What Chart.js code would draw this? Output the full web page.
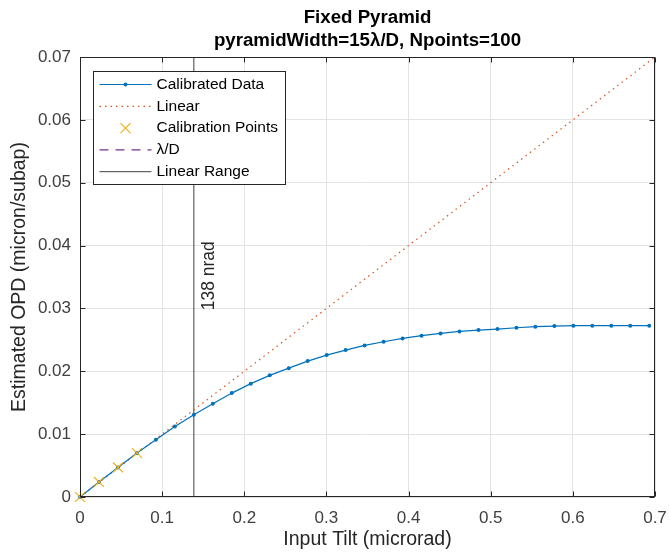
<!DOCTYPE html>
<html>
<head>
<meta charset="utf-8">
<script src="https://cdn.jsdelivr.net/npm/chart.js@4.4.1/dist/chart.umd.min.js"></script>
<style>
  body { margin: 0; background: #fff; }
</style>
</head>
<body>
<canvas id="chart" width="669" height="555"></canvas>
<script>
// values
const tiltX = [0, 0.0231, 0.0462, 0.0693, 0.0924, 0.1155, 0.1386, 0.1617, 0.1848, 0.2079,
  0.231, 0.2541, 0.2772, 0.3003, 0.3234, 0.3465, 0.3696, 0.3927, 0.4158, 0.4389,
  0.462, 0.4851, 0.5082, 0.5313, 0.5544, 0.5775, 0.6006, 0.6237, 0.6468, 0.6699, 0.693];
const opdY = [0, 0.0024, 0.0047, 0.0070, 0.0091, 0.0112, 0.0131, 0.01485, 0.01653, 0.01803,
  0.01935, 0.0205, 0.02162, 0.02258, 0.02337, 0.02412, 0.0247, 0.02523, 0.02566, 0.02603,
  0.02634, 0.02655, 0.02671, 0.02693, 0.02709, 0.02719, 0.02725, 0.02725, 0.02725, 0.02725, 0.02725];
const calibX = [0, 0.0231, 0.0462, 0.0693];
const calibY = [0, 0.0024, 0.0047, 0.0070];
const linearX = [0, 0.7];
const linearY = [0, 0.07];
const lambdaX = [];
const lambdaY = [];
const rangeX = [0.1386, 0.1386];
const rangeY = [0, 0.07];
const xTicks = [0, 0.1, 0.2, 0.3, 0.4, 0.5, 0.6, 0.7];
const yTicks = [0, 0.01, 0.02, 0.03, 0.04, 0.05, 0.06, 0.07];
const titleLines = ["Fixed Pyramid", "pyramidWidth=15\u03BB/D, Npoints=100"];
const rangeLabel = "138 nrad";

const FONT = "'Liberation Sans', Arial, Helvetica, sans-serif";
const AX = "#262626";

const zip = (xs, ys) => xs.map((x, i) => ({ x: x, y: ys[i] }));

// box, inward ticks, title, text label and the boxed legend (drawn like matlab does)
const matlabFrame = {
  id: "matlabFrame",
  afterDraw(chart) {
    const { ctx, chartArea: a, scales } = chart;
    const xs = scales.x, ys = scales.y;
    const L = Math.round(a.left) + 0.5, R = Math.round(a.right) - 0.5;
    const T = Math.round(a.top) + 0.5, B = Math.round(a.bottom) - 0.5;
    ctx.save();
    ctx.strokeStyle = AX;
    ctx.lineWidth = 1;
    ctx.setLineDash([]);
    ctx.strokeRect(L, T, R - L, B - T);

    const tl = 5;
    ctx.beginPath();
    xTicks.forEach(v => {
      const px = Math.round(xs.getPixelForValue(v)) + 0.5;
      ctx.moveTo(px, B); ctx.lineTo(px, B - tl);
      ctx.moveTo(px, T); ctx.lineTo(px, T + tl);
    });
    yTicks.forEach(v => {
      const py = Math.round(ys.getPixelForValue(v)) + 0.5;
      ctx.moveTo(L, py); ctx.lineTo(L + tl, py);
      ctx.moveTo(R, py); ctx.lineTo(R - tl, py);
    });
    ctx.stroke();

    // vertical text next to the linear range line
    ctx.save();
    ctx.translate(xs.getPixelForValue(rangeX[0]) + 15, ys.getPixelForValue(0.0352));
    ctx.rotate(-Math.PI / 2);
    ctx.fillStyle = AX;
    ctx.font = "17.5px " + FONT;
    ctx.textAlign = "center";
    ctx.textBaseline = "middle";
    ctx.fillText(rangeLabel, 0, 0);
    ctx.restore();

    // title centred over the axes
    ctx.fillStyle = "#000";
    ctx.font = "bold 18.7px " + FONT;
    ctx.textAlign = "center";
    ctx.textBaseline = "alphabetic";
    const cx = (a.left + a.right) / 2;
    ctx.fillText(titleLines[0], cx, 23);
    ctx.fillText(titleLines[1], cx, 46);

    // legend
    const lx = Math.round(a.left) + 13.5, ly = Math.round(a.top) + 14.5;
    const w = 192, h = 113;
    ctx.fillStyle = "#fff";
    ctx.fillRect(lx, ly, w, h);
    ctx.strokeStyle = AX;
    ctx.strokeRect(lx, ly, w, h);
    chart.data.datasets.forEach((ds, i) => {
      const cy = ly + 13 + i * 21.8;
      const x0 = lx + 6, x1 = lx + 58;
      if (ds.showLine) {
        ctx.save();
        ctx.strokeStyle = ds.borderColor;
        ctx.lineWidth = ds.borderWidth;
        ctx.setLineDash(ds.borderDash || []);
        ctx.beginPath();
        ctx.moveTo(x0, cy); ctx.lineTo(x1, cy);
        ctx.stroke();
        ctx.restore();
      }
      if (ds.pointRadius > 0) {
        ctx.save();
        ctx.fillStyle = ds.pointBackgroundColor;
        ctx.strokeStyle = ds.pointBorderColor;
        ctx.lineWidth = ds.pointBorderWidth;
        Chart.helpers.drawPoint(ctx, {
          pointStyle: ds.pointStyle, radius: ds.pointRadius,
          borderWidth: ds.pointBorderWidth, rotation: 0
        }, (x0 + x1) / 2, cy);
        ctx.restore();
      }
      ctx.fillStyle = "#000";
      ctx.font = "15.5px " + FONT;
      ctx.textAlign = "left";
      ctx.textBaseline = "middle";
      ctx.fillText(ds.label, lx + 63, cy);
    });
    ctx.restore();
  }
};

const ctx = document.getElementById("chart").getContext("2d");
new Chart(ctx, {
  type: "scatter",
  data: {
    datasets: [
      {
        label: "Calibrated Data",
        data: zip(tiltX, opdY),
        showLine: true,
        borderColor: "#0072BD",
        borderWidth: 1.2,
        pointStyle: "circle",
        pointRadius: 2,
        pointBorderWidth: 0,
        pointBackgroundColor: "#0072BD",
        pointBorderColor: "#0072BD",
        clip: false,
        order: 2
      },
      {
        label: "Linear",
        data: zip(linearX, linearY),
        showLine: true,
        borderColor: "#D95319",
        borderWidth: 1.2,
        borderDash: [1.5, 4],
        pointRadius: 0,
        order: 3
      },
      {
        label: "Calibration Points",
        data: zip(calibX, calibY),
        showLine: false,
        pointStyle: "crossRot",
        pointRadius: 7,
        pointBorderWidth: 1.2,
        pointBackgroundColor: "#EDB120",
        pointBorderColor: "#EDB120",
        clip: false,
        order: 1
      },
      {
        label: "\u03BB/D",
        data: zip(lambdaX, lambdaY),
        showLine: true,
        borderColor: "#7E2F8E",
        borderWidth: 1.2,
        borderDash: [9, 7],
        pointRadius: 0,
        order: 4
      },
      {
        label: "Linear Range",
        data: zip(rangeX, rangeY),
        showLine: true,
        borderColor: "#404040",
        borderWidth: 1,
        pointRadius: 0,
        order: 5
      }
    ]
  },
  options: {
    responsive: false,
    animation: false,
    layout: { padding: { top: 57, right: 14, left: 0, bottom: 0 } },
    plugins: {
      legend: { display: false },
      tooltip: { enabled: false }
    },
    scales: {
      x: {
        type: "linear",
        min: 0,
        max: 0.7,
        afterFit: s => { s.height = 58; s.paddingLeft = 0; s.paddingRight = 0; },
        afterBuildTicks: s => { s.ticks = xTicks.map(v => ({ value: v })); },
        grid: { color: "#e3e3e3", drawTicks: false },
        border: { display: false },
        ticks: {
          padding: 11,
          color: "#404040",
          font: { family: FONT, size: 17 },
          callback: v => String(v)
        },
        title: {
          display: true,
          text: "Input Tilt (microrad)",
          color: AX,
          font: { family: FONT, size: 19.5 },
          padding: { top: 0, bottom: 4 }
        }
      },
      y: {
        type: "linear",
        min: 0,
        max: 0.07,
        afterFit: s => { s.width = 80; s.paddingTop = 0; s.paddingBottom = 0; },
        afterBuildTicks: s => { s.ticks = yTicks.map(v => ({ value: v })); },
        grid: { color: "#e3e3e3", drawTicks: false },
        border: { display: false },
        ticks: {
          padding: 9,
          color: "#404040",
          font: { family: FONT, size: 17 },
          callback: v => String(v)
        },
        title: {
          display: true,
          text: "Estimated OPD (micron/subap)",
          color: AX,
          font: { family: FONT, size: 19.5 },
          padding: { top: 8, bottom: 0 }
        }
      }
    }
  },
  plugins: [matlabFrame]
});
</script>
</body>
</html>
